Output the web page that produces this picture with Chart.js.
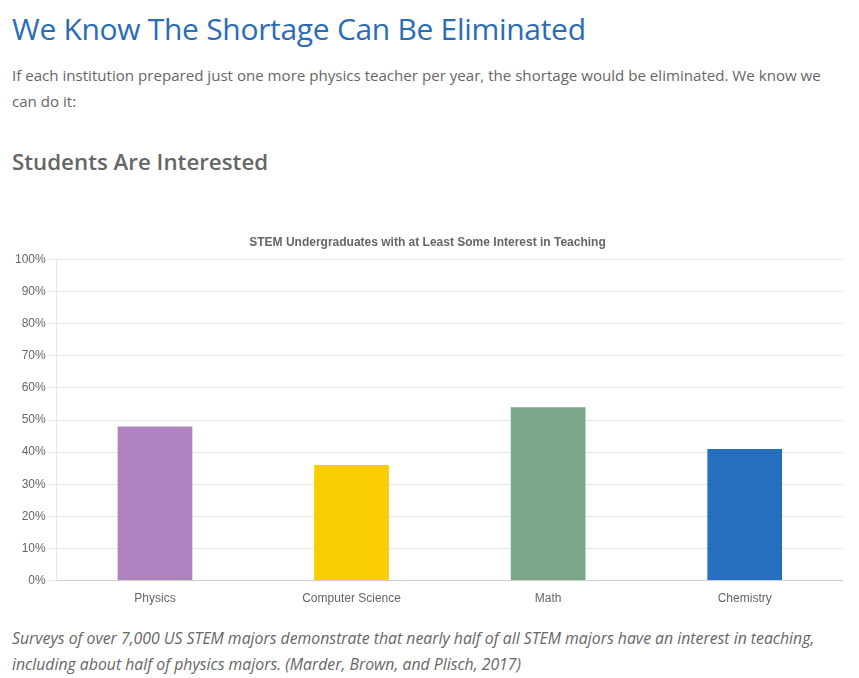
<!DOCTYPE html>
<html><head><meta charset="utf-8">
<script src="https://cdn.jsdelivr.net/npm/chart.js@4"></script>
<style>
html,body{margin:0;padding:0;background:#fff;}
body{width:859px;height:678px;position:relative;overflow:hidden;font-family:"Open Sans",sans-serif;}
.t{position:absolute;left:12px;margin:0;white-space:nowrap;}
#h1{top:8px;font-size:30px;color:#2b6cb7;font-weight:500;letter-spacing:-0.3px;}
#p{top:62px;font-size:15.1px;line-height:26px;color:#666;white-space:normal;width:830px;}
#h2{top:146px;font-size:22.3px;color:#666;font-weight:600;}
#cap{top:625px;font-size:15.8px;line-height:26px;color:#666;font-style:italic;white-space:normal;width:820px;}
#wrap{position:absolute;left:12px;top:225px;width:831px;height:384px;}
</style></head><body>
<h1 class="t" id="h1">We Know The Shortage Can Be Eliminated</h1>
<p class="t" id="p">If each institution prepared just one more physics teacher per year, the shortage would be eliminated. We know we can do it:</p>
<h2 class="t" id="h2">Students Are Interested</h2>
<div id="wrap"><canvas id="c"></canvas></div>
<p class="t" id="cap">Surveys of over 7,000 US STEM majors demonstrate that nearly half of all STEM majors have an interest in teaching, including about half of physics majors. (Marder, Brown, and Plisch, 2017)</p>
<script>
const categories = ["Physics", "Computer Science", "Math", "Chemistry"];
const values = [48, 36, 54, 41];
const barColors = ["#af83bf", "#f9cd00", "#7aa78a", "#266fc0"];
const chartTitle = "STEM Undergraduates with at Least Some Interest in Teaching";

Chart.defaults.font.family = '"Liberation Sans", Arial, sans-serif';
Chart.defaults.font.size = 12;
Chart.defaults.color = '#666';
new Chart(document.getElementById('c'), {
  type: 'bar',
  data: { labels: categories, datasets: [{ data: values, backgroundColor: barColors, barPercentage: 0.475, categoryPercentage: 0.8 }] },
  options: {
    responsive: true, maintainAspectRatio: false, animation: false,
    plugins: {
      legend: { display: false },
      tooltip: { enabled: false },
      title: { display: true, text: chartTitle, font: { size: 12, weight: 'bold' }, color: '#666', padding: { top: 10, bottom: 10 } }
    },
    scales: {
      y: { min: 0, max: 100, ticks: { stepSize: 10, callback: v => v + '%', color: '#666' }, grid: { color: '#e5e5e5' }, border: { color: '#e5e5e5' } },
      x: { grid: { display: false }, ticks: { color: '#666' }, border: { color: '#ccc' } }
    }
  }
});
</script>
</body></html>
